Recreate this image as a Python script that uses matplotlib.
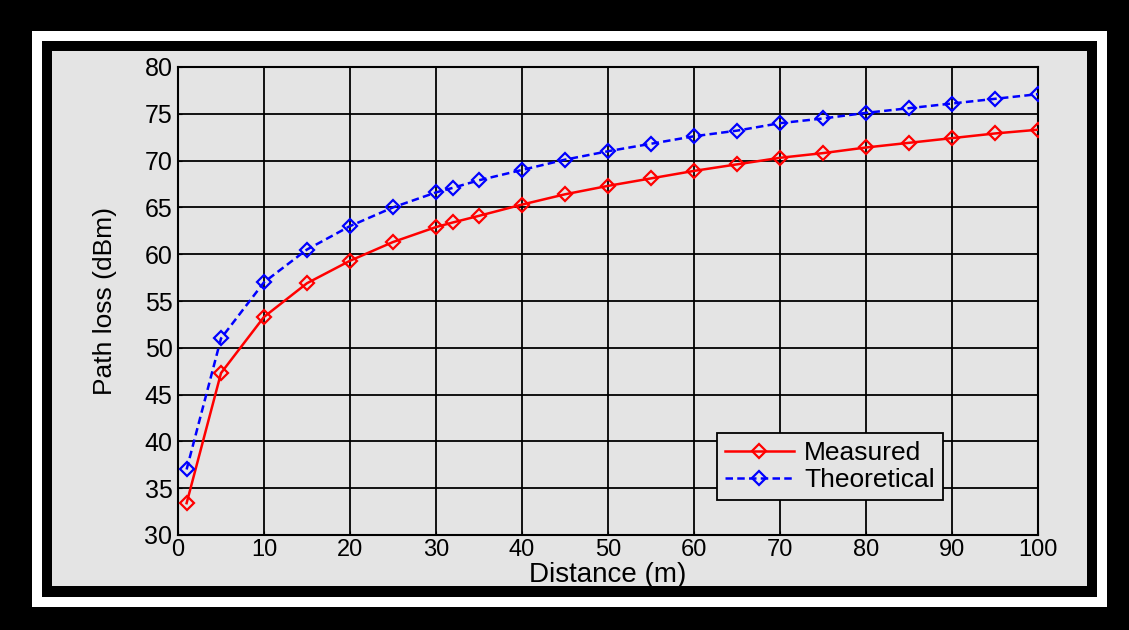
import matplotlib
matplotlib.use("Agg")
import matplotlib.pyplot as plt
from matplotlib.patches import Rectangle

distance = [1, 5, 10, 15, 20, 25, 30, 32, 35, 40, 45, 50, 55, 60, 65, 70, 75, 80, 85, 90, 95, 100]
measured = [33.4, 47.3, 53.3, 56.9, 59.3, 61.3, 62.9, 63.4, 64.1, 65.3, 66.4, 67.3, 68.1, 68.9,
            69.6, 70.3, 70.8, 71.4, 71.9, 72.4, 72.9, 73.3]
theoretical = [37.0, 51.0, 57.0, 60.5, 63.0, 65.0, 66.6, 67.1, 67.9, 69.0, 70.1, 71.0, 71.8, 72.6,
               73.2, 74.0, 74.5, 75.1, 75.6, 76.1, 76.6, 77.1]
xticks = list(range(0, 101, 10))
yticks = list(range(30, 81, 5))

plt.rcParams['font.family'] = ['Liberation Sans', 'DejaVu Sans']

W, H = 1129, 630
fig = plt.figure(figsize=(W / 100, H / 100), dpi=100, facecolor='black')

def rect(x0, y0, x1, y1, color):
    fig.patches.append(Rectangle((x0 / W, 1 - y1 / H), (x1 - x0) / W, (y1 - y0) / H,
                                 transform=fig.transFigure, facecolor=color, edgecolor='none', zorder=-10))

rect(32, 31, 1107, 607, 'white')
rect(42, 41, 1097, 597, 'black')
rect(52, 51, 1087, 586, '#e4e4e4')

ax = fig.add_axes([178 / W, 1 - 535 / H, (1038 - 178) / W, (535 - 67) / H])
ax.set_zorder(5)
ax.set_facecolor('#e4e4e4')
ax.plot(distance, measured, color='#ff0000', lw=1.8, marker='D', ms=7, mfc='none', mew=1.6,
        label='Measured', zorder=3)
ax.plot(distance, theoretical, color='#0000ff', lw=1.8, ls=(0, (3, 1.7)), marker='D', ms=7, mfc='none',
        mew=1.6, label='Theoretical', zorder=3)
ax.set_xlim(0, 100)
ax.set_ylim(30, 80)
ax.set_xticks(xticks)
ax.set_yticks(yticks)
ax.grid(True, color='black', lw=1.3, ls='-')
ax.set_axisbelow(True)
ax.tick_params(direction='in', length=3, labelsize=18, colors='black', pad=4)
ax.tick_params(axis='x', labelsize=17, pad=3)
for s in ax.spines.values():
    s.set_linewidth(1.5)
ax.set_xlabel('Distance (m)', fontsize=20, labelpad=0.5)
ax.set_ylabel('Path loss (dBm)', fontsize=19, labelpad=20)

leg = ax.legend(loc='upper left', bbox_to_anchor=(717 / W, 1 - 433 / H), bbox_transform=fig.transFigure,
                fontsize=19, frameon=True, fancybox=False, edgecolor='black', facecolor='#e4e4e4',
                framealpha=1, handlelength=2.6, borderpad=0.3, labelspacing=0.12, handletextpad=0.4,
                borderaxespad=0)
leg.get_frame().set_linewidth(1.3)

fig.savefig('out.png', dpi=100, facecolor='black')
